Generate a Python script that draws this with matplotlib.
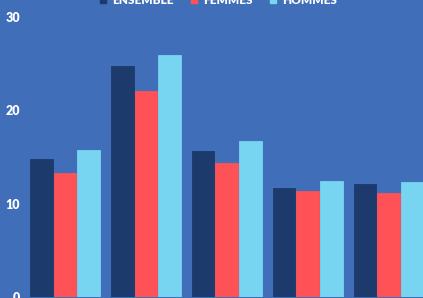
import matplotlib
matplotlib.use("Agg")
import matplotlib.pyplot as plt
from matplotlib.lines import Line2D
import numpy as np

series_names = ["ENSEMBLE", "FEMMES", "HOMMES"]
ensemble = [14.8, 24.8, 15.6, 11.7, 12.1]
femmes = [13.3, 22.1, 14.4, 11.4, 11.1]
hommes = [15.8, 25.9, 16.7, 12.4, 12.3]
yticks = [0, 10, 20, 30]

bg = "#406EB9"
colors = ["#1C3A6B", "#FF5257", "#78D5F2"]

plt.rcParams['font.family'] = ['Lato', 'DejaVu Sans']

fig = plt.figure(figsize=(4.23, 2.98), dpi=100)
fig.patch.set_facecolor(bg)
ax = fig.add_axes([24/423, 1/298, 1 - 24/423, 280/298])
ax.set_facecolor(bg)

x = np.arange(len(ensemble))
w = 0.28
off = 0.293
for i, (vals, c) in enumerate(zip([ensemble, femmes, hommes], colors)):
    ax.bar(x + (i - 1) * off, vals, width=w, color=c, edgecolor=c, linewidth=0.6, zorder=3)

ax.set_ylim(0, 30)
ax.set_xlim(-0.507, 4.425)
ax.set_yticks(yticks)
ax.set_yticklabels([str(t) for t in yticks], fontsize=9, fontweight='heavy', color='white')
ax.tick_params(axis='y', length=0, pad=3)
ax.set_xticks([])
for s in ax.spines.values():
    s.set_visible(False)

handles = [Line2D([0], [0], marker='s', linestyle='none', markersize=4,
                  markerfacecolor=c, markeredgecolor=c) for c in colors]
leg = fig.legend(handles, series_names, loc='center', bbox_to_anchor=(0.515, 0.999),
                 ncol=3, frameon=False, fontsize=8.5, handlelength=0.8, handletextpad=0.4,
                 columnspacing=1.3, borderaxespad=0, borderpad=0)
for t in leg.get_texts():
    t.set_color('white')
    t.set_fontweight('heavy')

fig.savefig("out.png", dpi=100, facecolor=bg)
